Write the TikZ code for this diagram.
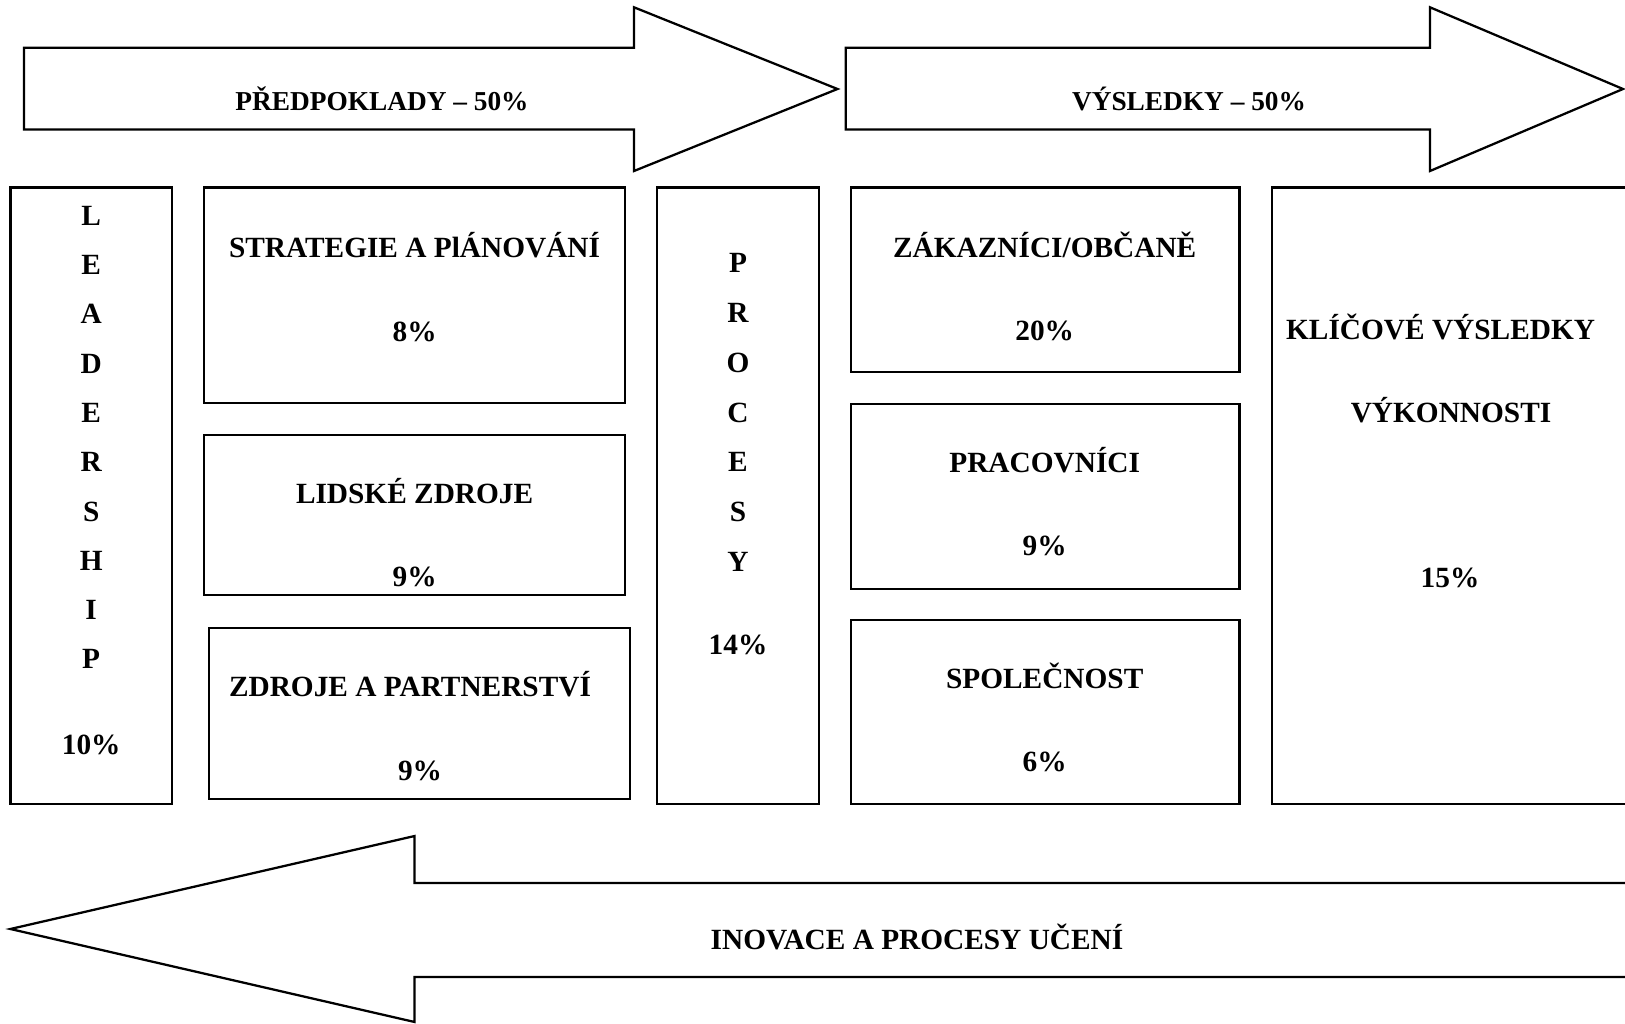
\documentclass[tikz,border=0pt]{standalone}
\usepackage{fontspec}
\setmainfont{Liberation Serif}
\begin{document}
\begin{tikzpicture}[x=0.75pt,y=0.75pt,yscale=-1,xscale=1,
  boxline/.style={line width=1.7pt,line join=miter},
  lbl/.style={inner sep=0pt,text height=14.5pt,text depth=0pt,font=\fontsize{22}{26}\selectfont\bfseries},
  arrowlbl/.style={lbl,text height=13.6pt,font=\fontsize{20.5}{24}\selectfont\bfseries}]
%set diagram size 1625 x 1024
\clip (0,0) rectangle (1625,1024);

%Shape: Right Arrow [id:predpoklady]
\draw [boxline] (24,47.7) -- (634,47.7) -- (634,7.3) -- (837.5,89) -- (634,171) -- (634,129.5) -- (24,129.5) -- cycle ;
%Shape: Right Arrow [id:vysledky]
\draw [boxline] (845.7,47.7) -- (1430,47.7) -- (1430,7.3) -- (1623,89) -- (1430,171) -- (1430,129.5) -- (845.7,129.5) -- cycle ;
%Shape: Left Arrow [id:inovace]
\draw [boxline] (1640,883) -- (414.6,883) -- (414.6,836) -- (10.4,929) -- (414.6,1022) -- (414.6,977) -- (1640,977) ;

%Shape: Rectangle [id:leadership]
\draw [boxline] (10.4,187.6) rectangle (172,804) ;
%Shape: Rectangle [id:strategie]
\draw [boxline] (204,187.6) rectangle (625,403) ;
%Shape: Rectangle [id:lidske]
\draw [boxline] (204,435) rectangle (625,595) ;
%Shape: Rectangle [id:partnerstvi]
\draw [boxline] (209,628) rectangle (630,799) ;
%Shape: Rectangle [id:procesy]
\draw [boxline] (657,187.6) rectangle (819,804) ;
%Shape: Rectangle [id:zakaznici]
\draw [boxline] (851,187.6) rectangle (1239.5,372) ;
%Shape: Rectangle [id:pracovnici]
\draw [boxline] (851,404) rectangle (1239.5,589) ;
%Shape: Rectangle [id:spolecnost]
\draw [boxline] (851,620) rectangle (1239.5,804) ;
%Shape: Rectangle [id:klicove]
\draw [boxline] (1272,187.6) rectangle (1640,804) ;

% Text Node
\draw (382,101.5) node (predtext) [arrowlbl] {PŘEDPOKLADY – 50\%};
% Text Node
\draw (1189,101.5) node (vystext) [arrowlbl] {VÝSLEDKY – 50\%};
% Text Node
\draw (917,940) node (inovtext) [lbl] {INOVACE A PROCESY UČENÍ};

% Text Node
\foreach \ch [count=\i from 0] in {L,E,A,D,E,R,S,H,I,P}
  \draw (91.2,{215.6+49.3*\i}) node (lead\i) [lbl] {\ch};
\draw (91.2,745) node (leadpct) [lbl] {10\%};

% Text Node
\draw (414.6,247.7) node (strattitle) [lbl] {STRATEGIE A PlÁNOVÁNÍ};
\draw (414.6,331.6) node (stratpct) [lbl] {8\%};
% Text Node
\draw (414.6,494) node (lidtitle) [lbl] {LIDSKÉ ZDROJE};
\draw (414.6,577) node (lidpct) [lbl] {9\%};
% Text Node
\draw (410,687) node (parttitle) [lbl] {ZDROJE A PARTNERSTVÍ};
\draw (420,771) node (partpct) [lbl] {9\%};

% Text Node
\foreach \ch [count=\i from 0] in {P,R,O,C,E,S,Y}
  \draw (738,{263+49.8*\i}) node (proc\i) [lbl] {\ch};
\draw (738,644.6) node (procpct) [lbl] {14\%};

% Text Node
\draw (1044.7,247.7) node (zaktitle) [lbl] {ZÁKAZNÍCI/OBČANĚ};
\draw (1044.7,330.6) node (zakpct) [lbl] {20\%};
% Text Node
\draw (1044.7,463) node (pracitle) [lbl] {PRACOVNÍCI};
\draw (1044.7,546) node (pracpct) [lbl] {9\%};
% Text Node
\draw (1044.7,679) node (spoltitle) [lbl] {SPOLEČNOST};
\draw (1044.7,762) node (spolpct) [lbl] {6\%};

% Text Node
\draw (1440.6,329.6) node (klictitle) [lbl] {KLÍČOVÉ VÝSLEDKY};
\draw (1451,412.5) node (klicsub) [lbl] {VÝKONNOSTI};
\draw (1450,578) node (klicpct) [lbl] {15\%};

\end{tikzpicture}
\end{document}
